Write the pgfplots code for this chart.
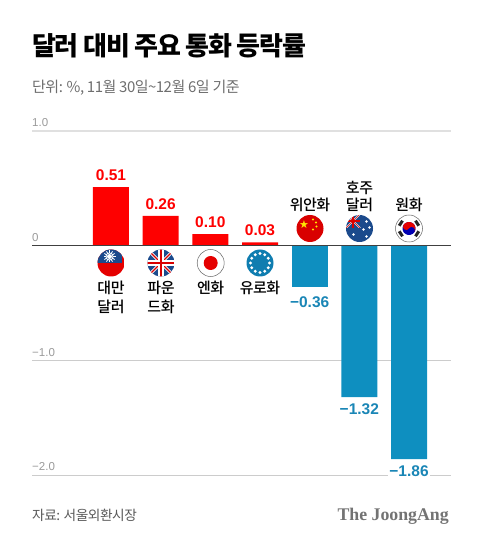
\documentclass[border=0pt]{standalone}
\usepackage{pgfplots}
\pgfplotsset{compat=1.18}
\usepackage{fontspec}
\setmainfont{Noto Sans CJK KR}
\newfontfamily\titlef[LetterSpace=-5]{Noto Sans CJK KR}
\newfontfamily\subf[LetterSpace=-3.5]{Noto Sans CJK KR}
\newfontfamily\labf[LetterSpace=-3]{Noto Sans CJK KR Medium}
\newfontfamily\numf{Liberation Sans}
\newfontfamily\logof{Liberation Serif}
\definecolor{cred}{HTML}{FE0000}
\definecolor{cblue}{HTML}{0E8FC0}
\definecolor{lblue}{HTML}{1A86B6}
\definecolor{tickg}{HTML}{9A9A9A}
\definecolor{subg}{HTML}{6E6E6E}
\definecolor{navy}{HTML}{1B4A8C}
\definecolor{eub}{HTML}{0F7DB0}
\newcommand{\fs}[1]{\fontsize{#1}{#1}\selectfont}
\newcommand{\ukjack}[1]{% radius in px
  \draw[white,line width=0.22*#1 pt] (-#1,-#1) -- (#1,#1) (-#1,#1) -- (#1,-#1);
  \draw[red!85!black,line width=0.1*#1 pt] (-#1,-#1) -- (#1,#1) (-#1,#1) -- (#1,-#1);
  \draw[white,line width=0.36*#1 pt] (-#1,0) -- (#1,0) (0,-#1) -- (0,#1);
  \draw[red!85!black,line width=0.2*#1 pt] (-#1,0) -- (#1,0) (0,-#1) -- (0,#1);
}
\begin{document}
\begin{tikzpicture}
\useasboundingbox (0,0) rectangle (480pt,542pt);
\begin{axis}[
  at={(32pt,66.7pt)},anchor=south west,
  scale only axis,width=419pt,height=344.4pt,
  xmin=-1.59,xmax=6.845,ymin=-2,ymax=1,
  axis line style={draw=none},
  clip=false,
  xtick=\empty,
  ytick={-2,-1,0,1},
  yticklabels={−2.0,−1.0,0,1.0},
  major tick length=0pt,
  yticklabel style={anchor=south west,inner sep=0pt,xshift=0pt,yshift=4pt,text=tickg,font=\numf\fs{11.5}},
  ymajorgrids,
  grid style={draw=black!20,line width=0.9pt},
  ybar,bar shift=0pt,bar width=36pt,
  point meta=explicit symbolic,
  nodes near coords,
  every node near coord/.append style={font=\numf\bfseries\fs{15.5},inner sep=0pt},
]
\draw[draw=black!12,line width=2.6pt] (axis cs:-1.59,1) -- (axis cs:6.845,1);
\addplot[draw=none,fill=cred,nodes near coords style={text=cred,yshift=6pt,anchor=south}] coordinates {
 (0,0.51)[0.51] (1,0.26)[0.26] (2,0.10)[0.10] (3,0.03)[0.03]};
\addplot[draw=none,fill=cblue,nodes near coords style={text=lblue,yshift=-9.5pt,anchor=north,fill=white,inner xsep=1pt}] coordinates {
 (4,-0.36)[−0.36]};
\addplot[draw=none,fill=cblue,nodes near coords style={text=lblue,yshift=-6.5pt,anchor=north,fill=white,inner xsep=1pt}] coordinates {
 (5,-1.32)[−1.32] (6,-1.86)[−1.86]};
\draw[draw=black!75,line width=0.9pt] (axis cs:-1.59,0) -- (axis cs:6.845,0);
\end{axis}
\begin{scope}[x=1pt,y=-1pt,yshift=542pt]
\node[anchor=west,inner sep=0pt,text=black] at (32,45.5) {\titlef\fs{26}\bfseries 달러 대비 주요 통화 등락률};
\node[anchor=west,inner sep=0pt,text=subg] at (32,87.5) {\subf\fs{15}단위: \%, 11월 30일\textasciitilde12월 6일 기준};
\node[anchor=west,inner sep=0pt,text=black!65] at (32,515) {\subf\fs{13.7}자료: 서울외환시장};
\node[anchor=east,inner sep=0pt,text=black!55] at (449,516) {\logof\bfseries\fs{17.8}The JoongAng};
% category labels
\begin{scope}[every node/.style={inner sep=0pt,text=black,font=\labf\fs{15},align=center}]
\node at (111,288) {대만}; \node at (111,306.5) {달러};
\node at (161,288) {파운}; \node at (161,306.5) {드화};
\node at (210.7,288) {엔화};
\node at (260,288) {유로화};
\node at (310,205) {위안화};
\node at (359.5,187.5) {호주}; \node at (359.5,205) {달러};
\node at (409,205) {원화};
\end{scope}
% Taiwan
\begin{scope}[shift={(111,263)}]
\clip (0,0) circle (13.5pt);
\fill[red!90!black] (-14,-14) rectangle (14,14);
\fill[navy] (-14,-14) rectangle (11,0.5);
\fill[white] (-1.5,-6.5) circle (4pt);
\foreach \a in {0,30,...,330}{\draw[white,line width=0.8pt] (-1.5,-6.5) -- ++(\a:6);}
\fill[navy] (-1.5,-6.5) circle (3pt);
\fill[white] (-1.5,-6.5) circle (2.5pt);
\end{scope}
% UK
\begin{scope}[shift={(161,263)}]
\clip (0,0) circle (13.5pt);
\fill[navy] (-14,-14) rectangle (14,14);
\ukjack{14}
\end{scope}
% Japan
\begin{scope}[shift={(210.7,263)}]
\draw[black!60,fill=white,line width=0.5pt] (0,0) circle (13.5pt);
\fill[red!90!black] (0,0) circle (7pt);
\end{scope}
% EU
\begin{scope}[shift={(260,263)}]
\fill[eub] (0,0) circle (13.5pt);
\foreach \a in {0,30,...,330}{\fill[white] (\a:9.5) circle (1.6pt);}
\end{scope}
% China
\begin{scope}[shift={(310,228.5)}]
\fill[red!85!black] (0,0) circle (13.5pt);
\node[inner sep=0pt,text=yellow!90!orange,font=\fontspec{DejaVu Sans}\fs{11}] at (-6,-4) {★};
\foreach \p in {(3,-9),(6,-6),(6.5,-2),(3,1)}{\fill[yellow!90!orange] \p circle (1.1pt);}
\end{scope}
% Australia
\begin{scope}[shift={(359.5,228.5)}]
\clip (0,0) circle (13.5pt);
\fill[navy] (-14,-14) rectangle (14,14);
\begin{scope}
\clip (-14,-14) rectangle (1,-1);
\begin{scope}[shift={(-6.5,-7.5)}]
\ukjack{7}
\end{scope}
\end{scope}
\foreach \p in {(-6,6),(7,-7),(10,-1),(4,1),(7,8)}{\fill[white] \p circle (1.3pt);}
\end{scope}
% Korea
\begin{scope}[shift={(409,228.5)}]
\draw[black!60,fill=white,line width=0.5pt] (0,0) circle (13.5pt);
\begin{scope}[rotate=-33]
\fill[blue!70!black] (0,0) circle (6.5pt);
\begin{scope}
\clip (-7,-7) rectangle (7,0);
\fill[red!90!black] (0,0) circle (6.5pt);
\end{scope}
\fill[red!90!black] (-3.25,0) circle (3.25pt);
\fill[blue!70!black] (3.25,0) circle (3.25pt);
\end{scope}
\foreach \a in {33,147,213,327}{
\begin{scope}[rotate=\a]
\fill[black!85] (8.2,-3) rectangle (11.2,3);
\end{scope}}
\end{scope}
\end{scope}
\end{tikzpicture}
\end{document}
